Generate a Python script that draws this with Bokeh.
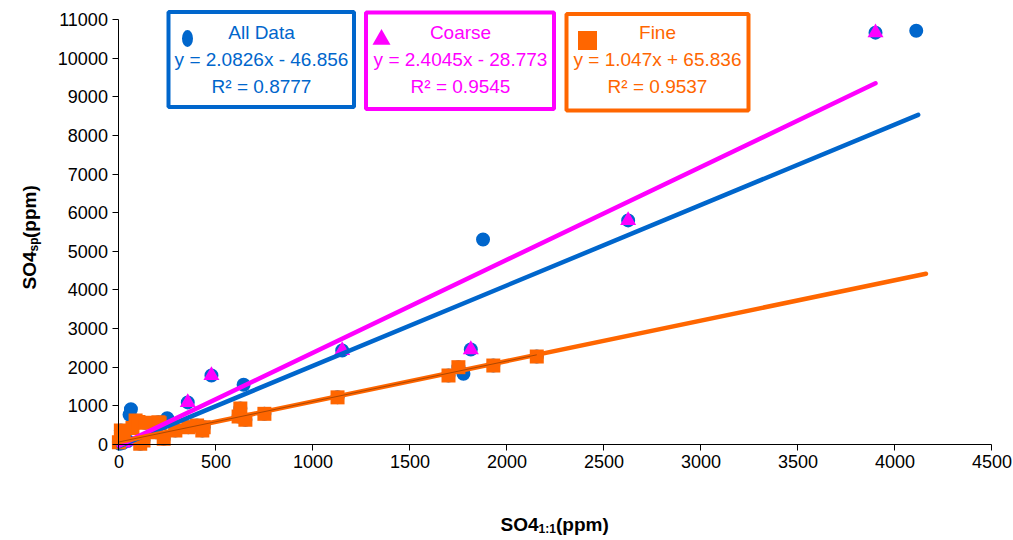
import numpy as np
from bokeh.plotting import figure
from bokeh.models import Range1d, FixedTicker, Label, BoxAnnotation
from bokeh.embed import file_html
from bokeh.resources import INLINE

# ---------------- data ----------------
coarse_x = [3900, 2625, 1151, 1814, 477, 355, 20, 45]
coarse_y = [10660, 5800, 2433, 2458, 1786, 1090, 40, 90]

fine_x = [0, 10, 25, 70, 86, 100, 110, 127, 135, 190, 204, 210, 231, 291, 358,
          403, 430, 437, 617, 626, 652, 750, 1127, 1699, 1750, 1930, 2154]
fine_y = [60, 360, 280, 430, 621, 580, 20, 104, 560, 320, 577, 550, 147, 362, 448,
          492, 362, 448, 725, 932, 639, 794, 1220, 1786, 2001, 2044, 2277]

extra_x = [4110, 1877, 1776, 643, 62, 55, 249, 5]
extra_y = [10710, 5305, 1830, 1545, 915, 770, 680, 20]

all_x = coarse_x + fine_x + extra_x
all_y = coarse_y + fine_y + extra_y

series_names = ["All Data", "Coarse", "Fine"]
slopes = [2.0826, 2.4045, 1.047]
intercepts = [-46.856, -28.773, 65.836]
r_squared = [0.8777, 0.9545, 0.9537]
line_x_end = [4120, 3900, 4160]
fine_inner_end = 2154

x_ticks = list(range(0, 4501, 500))
y_ticks = list(range(0, 11001, 1000))

BLUE = "#0066CC"
MAGENTA = "#FF00FF"
ORANGE = "#FF6600"
colors = [BLUE, MAGENTA, ORANGE]
FONT = "Liberation Sans"

# ---------------- layout (frame = whole canvas, axes fixed inside) ----------------
W, H = 1013, 540
X0_PX, X1_PX = 118.4, 991.4      # pixel of x=0 and x=4500
Y0_PX, Y1_PX = 444.0, 19.0       # pixel of y=0 and y=11000
X_MAX, Y_MAX = 4500, 11000
kx = (X1_PX - X0_PX) / X_MAX
ky = (Y0_PX - Y1_PX) / Y_MAX


def px2x(px):
    return (px - X0_PX) / kx


def py2y(py):
    return (Y0_PX - py) / ky


p = figure(width=W, height=H, output_backend="svg", toolbar_location=None,
           x_range=Range1d(px2x(0), px2x(W)), y_range=Range1d(py2y(H), py2y(0)),
           min_border=0, min_border_left=0, min_border_right=0,
           min_border_top=0, min_border_bottom=0)
p.outline_line_color = None
p.xgrid.visible = False
p.ygrid.visible = False
p.background_fill_color = "white"
p.border_fill_color = "white"

for ax in (p.xaxis[0], p.yaxis[0]):
    ax.fixed_location = 0
    ax.axis_line_color = "black"
    ax.axis_line_width = 1
    ax.major_tick_line_color = "black"
    ax.major_tick_out = 6
    ax.major_tick_in = 0
    ax.minor_tick_line_color = None
    ax.major_label_text_font = FONT
    ax.major_label_text_font_size = "18px"
    ax.major_label_text_color = "black"
p.xaxis[0].ticker = FixedTicker(ticks=x_ticks)
p.yaxis[0].ticker = FixedTicker(ticks=y_ticks)
p.xaxis[0].bounds = (0, X_MAX)
p.yaxis[0].bounds = (0, Y_MAX)
p.xaxis[0].major_label_standoff = 4
p.yaxis[0].major_label_standoff = 5

# ---------------- marks ----------------
p.scatter(all_x, all_y, marker="circle", size=14, color=BLUE, line_width=0)
p.scatter(coarse_x, coarse_y, marker="triangle", size=16, color=MAGENTA, line_width=0)
p.scatter(fine_x, fine_y, marker="square", size=14, color=ORANGE, line_width=0)

for i in range(3):
    xs = np.array([0.0, line_x_end[i]])
    ys = slopes[i] * xs + intercepts[i]
    p.line(xs, ys, line_color=colors[i], line_width=4.5, line_cap="round")

xs_in = np.array([0.0, fine_inner_end])
p.line(xs_in, slopes[2] * xs_in + intercepts[2], line_color="#8a3a00",
       line_width=1, line_alpha=0.7)

# ---------------- legend boxes ----------------
boxes = [(168, 353.5, 11.5, 106.5), (365.5, 553.5, 12, 108.5), (566, 748, 13.5, 110)]
text_cx = [261, 460, 657]
for i in range(3):
    l, r, t, b = boxes[i]
    p.add_layout(BoxAnnotation(left=px2x(l), right=px2x(r), top=py2y(t), bottom=py2y(b),
                               fill_color=None, fill_alpha=0, line_color=colors[i],
                               line_alpha=1.0, line_width=4))
    sign = "-" if intercepts[i] < 0 else "+"
    lines = [series_names[i],
             f"y = {slopes[i]:g}x {sign} {abs(intercepts[i]):g}",
             f"R\u00b2 = {r_squared[i]:g}"]
    for j, (txt, yy) in enumerate(zip(lines, [32, 59, 86])):
        p.add_layout(Label(x=px2x(text_cx[i]), y=py2y(yy), text=txt,
                           text_align="center", text_baseline="middle",
                           text_font=FONT, text_font_size="19px",
                           text_color=colors[i]))

p.ellipse(x=[px2x(187)], y=[py2y(38)], width=11, height=17,
          width_units="screen", height_units="screen", color=BLUE, line_width=0)
p.scatter(x=[px2x(381)], y=[py2y(39)], marker="triangle", size=18,
          color=MAGENTA, line_width=0)
p.scatter(x=[px2x(587)], y=[py2y(40)], marker="square", size=19,
          color=ORANGE, line_width=0)

# ---------------- axis titles ----------------
TF = "19px"
SF = "12px"
# x title
xb = 524
p.add_layout(Label(x=px2x(500), y=py2y(xb), text="SO4", text_font=FONT,
                   text_font_size=TF, text_font_style="bold", text_align="left",
                   text_baseline="alphabetic", text_color="black"))
p.add_layout(Label(x=px2x(538), y=py2y(xb + 4), text="1:1", text_font=FONT,
                   text_font_size=SF, text_font_style="bold", text_align="left",
                   text_baseline="alphabetic", text_color="black"))
p.add_layout(Label(x=px2x(555.5), y=py2y(xb), text="(ppm)", text_font=FONT,
                   text_font_size=TF, text_font_style="bold", text_align="left",
                   text_baseline="alphabetic", text_color="black"))
# y title (rotated)
yb = 29
p.add_layout(Label(x=px2x(yb), y=py2y(289), text="SO4", text_font=FONT,
                   text_font_size=TF, text_font_style="bold", text_align="left",
                   text_baseline="alphabetic", angle=np.pi / 2, text_color="black"))
p.add_layout(Label(x=px2x(yb + 4), y=py2y(251), text="sp", text_font=FONT,
                   text_font_size=SF, text_font_style="bold", text_align="left",
                   text_baseline="alphabetic", angle=np.pi / 2, text_color="black"))
p.add_layout(Label(x=px2x(yb), y=py2y(237.5), text="(ppm)", text_font=FONT,
                   text_font_size=TF, text_font_style="bold", text_align="left",
                   text_baseline="alphabetic", angle=np.pi / 2, text_color="black"))

open("out.html", "w").write(file_html(p, INLINE))
